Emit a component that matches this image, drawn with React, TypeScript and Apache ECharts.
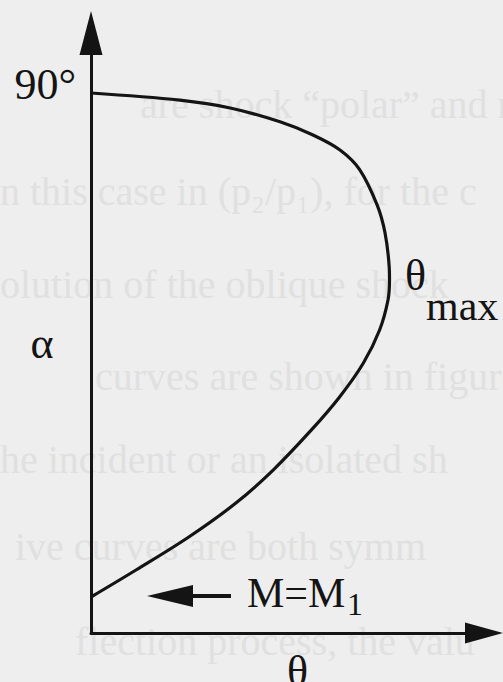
import React, { useEffect, useRef } from "react";
import * as echarts from "echarts";

// Shock polar traced from the normal shock (α = 90°, θ = 0) round θ_max down to the Mach wave (M = M1)
const polarTheta = [0, 14.8, 23.2, 31.5, 37.0, 41.5, 44.8, 47.7, 49.0, 49.7, 49.75, 49.5, 48.1, 45.4, 41.4, 36.7, 30.4, 24.2, 16.3, 7.5, 0];
const polarAlpha = [90, 88.8, 87.5, 85.2, 83.0, 80.5, 77.2, 71.3, 66.7, 61.0, 58.8, 55.5, 50.5, 45.0, 39.3, 33.8, 27.2, 21.7, 16.0, 10.5, 6.0];

// Only labelled value on the α axis
const alphaTicks = [90];

// Faint lines of the page's body text that show through behind the figure
const pageText = [
  "are shock \u201Cpolar\u201D and map",
  "n this case in (p\u2082/p\u2081), for the c",
  "olution of the oblique shock",
  "curves are shown in figure",
  "he incident or an isolated sh",
  "ive curves are both symm",
  "flection process, the valu",
];
const pageTextRows: [number, number][] = [
  [140, 118],
  [0, 205],
  [0, 298],
  [95, 390],
  [0, 473],
  [15, 560],
  [75, 655],
];

const SERIF = "'Liberation Serif', 'DejaVu Serif', serif";
const INK = "#141414";

export default function App() {
  const ref = useRef<HTMLDivElement>(null);

  useEffect(() => {
    if (!ref.current) return;
    const chart = echarts.init(ref.current, undefined, { renderer: "svg" });

    const points = polarTheta.map((t, i) => [t, polarAlpha[i]]);

    // baseline -> centre offset for a serif face drawn with a central baseline
    const mid = (baseline: number, size: number) => baseline - 0.3375 * size;

    chart.setOption({
      animation: false,
      backgroundColor: "#eeeeee",
      grid: {
        left: 91,
        right: 19,
        top: 33,
        bottom: 49,
        containLabel: false,
        outerBoundsMode: "none",
      },
      xAxis: {
        type: "value",
        min: 0,
        max: 65.5,
        name: "\u03B8",
        nameLocation: "middle",
        nameGap: 16,
        nameTextStyle: {
          fontSize: 44,
          fontFamily: SERIF,
          color: INK,
          padding: [0, 0, 0, 20],
        },
        axisLine: {
          show: true,
          onZero: false,
          symbol: ["none", "triangle"],
          symbolSize: [21, 38],
          lineStyle: { color: INK, width: 3 },
        },
        axisTick: { show: false },
        axisLabel: { show: false },
        splitLine: { show: false },
      },
      yAxis: {
        type: "value",
        min: 0,
        max: 100,
        axisLine: {
          show: true,
          onZero: false,
          symbol: ["none", "triangle"],
          symbolSize: [23, 44],
          lineStyle: { color: INK, width: 3 },
        },
        axisTick: { show: false },
        splitLine: { show: false },
        axisLabel: { show: false },
      },
      series: [
        {
          type: "line",
          data: points,
          smooth: 0.35,
          showSymbol: false,
          symbol: "none",
          lineStyle: { color: INK, width: 3.2 },
          z: 5,
        },
      ],
    });

    const ghost = pageText.map((txt, i) => ({
      type: "text",
      z: -5,
      silent: true,
      x: pageTextRows[i][0],
      y: mid(pageTextRows[i][1], 40),
      style: {
        text: txt,
        fontSize: 40,
        fontFamily: SERIF,
        fill: "#e0e0e0",
        verticalAlign: "middle",
        align: "left",
      },
    }));

    // α tick labels, placed from the axis scale, right of them the axis line
    const axisX = chart.convertToPixel({ xAxisIndex: 0 }, 0) as number;
    const tickLabels = alphaTicks.map((v) => {
      const py = chart.convertToPixel({ yAxisIndex: 0 }, v) as number;
      return {
        type: "text",
        z: 10,
        x: axisX - 15,
        y: mid(py + 6, 44),
        style: {
          text: `${v}\u00B0`,
          fontSize: 44,
          fontFamily: SERIF,
          fill: INK,
          verticalAlign: "middle",
          align: "right",
        },
      };
    });

    chart.setOption({
      graphic: [
        ...ghost,
        ...tickLabels,
        {
          type: "text",
          z: 10,
          x: 42,
          y: mid(358, 44),
          style: { text: "\u03B1", fontSize: 44, fontFamily: SERIF, fill: INK, verticalAlign: "middle", align: "center" },
        },
        {
          type: "text",
          z: 10,
          x: 405,
          y: mid(290, 44),
          style: { text: "\u03B8", fontSize: 44, fontFamily: SERIF, fill: INK, verticalAlign: "middle", align: "left" },
        },
        {
          type: "text",
          z: 10,
          x: 426,
          y: mid(320, 42),
          style: { text: "max", fontSize: 42, fontFamily: SERIF, fill: INK, verticalAlign: "middle", align: "left" },
        },
        {
          type: "line",
          z: 10,
          shape: { x1: 231, y1: 596, x2: 188, y2: 596 },
          style: { stroke: INK, lineWidth: 4 },
        },
        {
          type: "polygon",
          z: 10,
          shape: { points: [[147, 596], [193, 585], [193, 607]] },
          style: { fill: INK },
        },
        {
          type: "text",
          z: 10,
          x: 247,
          y: mid(607, 42),
          style: { text: "M=M", fontSize: 42, fontFamily: SERIF, fill: INK, verticalAlign: "middle", align: "left" },
        },
        {
          type: "text",
          z: 10,
          x: 347,
          y: mid(615, 32),
          style: { text: "1", fontSize: 32, fontFamily: SERIF, fill: INK, verticalAlign: "middle", align: "left" },
        },
      ],
    });

    return () => chart.dispose();
  }, []);

  return (
    <div
      ref={ref}
      style={{ position: "absolute", left: 0, top: 0, width: 503, height: 682, background: "#eeeeee" }}
    />
  );
}
